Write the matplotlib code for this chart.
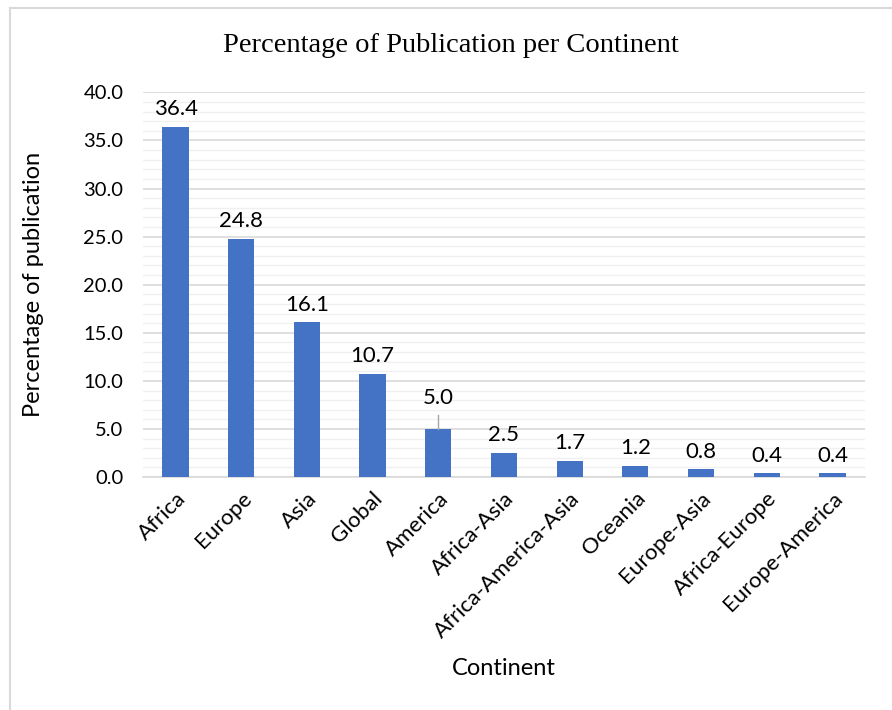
import matplotlib.pyplot as plt
from matplotlib.lines import Line2D
from matplotlib.ticker import MultipleLocator

# Chart data.
continents = ['Africa', 'Europe', 'Asia', 'Global', 'America', 'Africa-Asia',
              'Africa-America-Asia', 'Oceania', 'Europe-Asia', 'Africa-Europe',
              'Europe-America']
percentages = [36.4, 24.8, 16.1, 10.7, 5.0, 2.5, 1.7, 1.2, 0.8, 0.4, 0.4]

sans = ['Lato', 'DejaVu Sans']

fig = plt.figure(figsize=(8.92, 7.10), dpi=100)
ax = fig.add_axes([0.160, 0.328, 0.810, 0.542])

x = range(len(continents))
ax.bar(x, percentages, width=0.4, color='#4472c4', zorder=3)

ax.set_xlim(-0.5, len(continents) - 0.5)
ax.set_ylim(0, 40)
ax.yaxis.set_major_locator(MultipleLocator(5))
ax.yaxis.set_minor_locator(MultipleLocator(1))
ax.grid(axis='y', which='major', color='#d9d9d9', linewidth=1.2, zorder=0)
ax.grid(axis='y', which='minor', color='#f0f0f0', linewidth=1.0, zorder=0)

for side in ['left', 'right', 'top']:
    ax.spines[side].set_visible(False)
ax.spines['bottom'].set_color('#d9d9d9')
ax.spines['bottom'].set_linewidth(1.2)
ax.tick_params(axis='both', which='both', length=0)

ax.set_xticks(list(x))
ax.set_xticklabels(continents, rotation=45, ha='right', rotation_mode='anchor',
                   fontsize=16, family=sans, color='#000000')
ax.set_yticks([v * 5 for v in range(9)])
ax.set_yticklabels(['%.1f' % (v * 5) for v in range(9)], fontsize=14.5, family=sans)
ax.tick_params(axis='x', pad=8)
ax.tick_params(axis='y', pad=14)

# Data labels above each bar.
for i, v in enumerate(percentages):
    offset = 2.2 if continents[i] == 'America' else 0.8
    ax.text(i, v + offset, '%.1f' % v, ha='center', va='bottom',
            fontsize=16, family=sans, zorder=4)
    if continents[i] == 'America':
        ax.plot([i, i], [v, v + 1.5], color='#a6a6a6', linewidth=1, zorder=4)

ax.set_xlabel('Continent', fontsize=17, family=sans)
ax.set_ylabel('Percentage of publication', fontsize=17, family=sans)
ax.xaxis.set_label_coords(0.5, -0.47)
ax.yaxis.set_label_coords(-0.137, 0.5)

fig.text(0.505, 0.936, 'Percentage of Publication per Continent',
         ha='center', va='center', fontsize=20.5, family='Liberation Serif')

# Light frame around the chart, as in the source screenshot.
fig.add_artist(Line2D([0.011, 1.0], [0.989, 0.989], color='#d9d9d9', linewidth=1.5,
                      transform=fig.transFigure))
fig.add_artist(Line2D([0.011, 0.011], [0.0, 0.989], color='#d9d9d9', linewidth=1.5,
                      transform=fig.transFigure))

fig.savefig('out.png', dpi=100)
